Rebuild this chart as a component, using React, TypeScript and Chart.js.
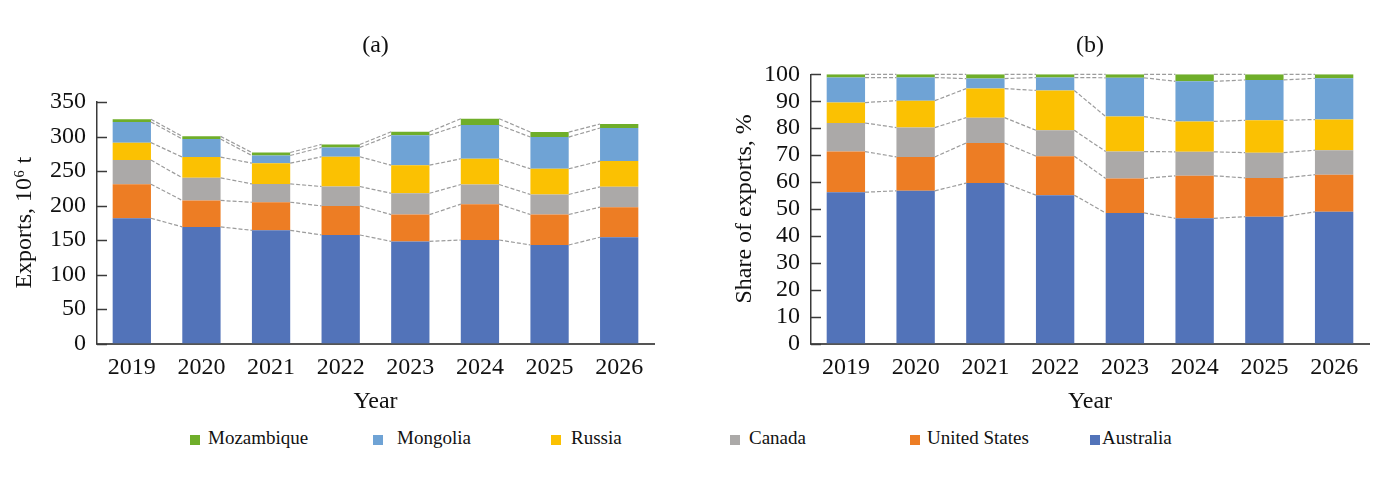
import React, { useEffect, useRef } from 'react';
import { Chart, registerables } from 'chart.js';

Chart.register(...registerables);

const years = ['2019', '2020', '2021', '2022', '2023', '2024', '2025', '2026'];
const countries = ['Australia', 'United States', 'Canada', 'Russia', 'Mongolia', 'Mozambique'];
const countryColors = ['#5273b9', '#ed7d24', '#aba9a8', '#fbc102', '#6fa3d5', '#6fae2a'];

// (a) Exports, 10^6 t
const australiaExports = [181.5, 169, 164, 157.3, 148, 150, 142.8, 154];
const usExports = [49.4, 38.3, 40.7, 42.1, 38.8, 51.9, 44.1, 43.6];
const canadaExports = [35, 32.8, 26.6, 28.1, 30.9, 28.5, 29.1, 29.5];
const russiaExports = [25.2, 30.1, 30, 43.1, 40.7, 37.3, 37.2, 37.3];
const mongoliaExports = [30, 26.2, 11.1, 13.6, 43.5, 48.9, 46, 47.9];
const mozambiqueExports = [3.9, 3.8, 4.4, 4.3, 4.9, 9.2, 7.2, 5.8];

// (b) Share of exports, %
const australiaShare = [56.2, 56.7, 59.6, 55.1, 48.5, 46.5, 47.1, 48.9];
const usShare = [15.1, 12.6, 14.9, 14.5, 12.8, 15.8, 14.4, 13.8];
const canadaShare = [10.6, 10.9, 9.4, 9.6, 10.0, 8.9, 9.4, 9.1];
const russiaShare = [7.6, 10.0, 10.8, 14.8, 13.0, 11.3, 12.0, 11.4];
const mongoliaShare = [9.3, 8.6, 3.7, 4.8, 14.4, 14.9, 15.0, 15.3];
const mozambiqueShare = [1.2, 1.2, 1.6, 1.2, 1.3, 2.6, 2.1, 1.5];

const exportsTicks = [0, 50, 100, 150, 200, 250, 300, 350];
const shareTicks = [0, 10, 20, 30, 40, 50, 60, 70, 80, 90, 100];

const exportsSeries = [australiaExports, usExports, canadaExports, russiaExports, mongoliaExports, mozambiqueExports];
const shareSeries = [australiaShare, usShare, canadaShare, russiaShare, mongoliaShare, mozambiqueShare];

const legendOrder = [5, 4, 3, 2, 1, 0];

const FONT = "'Liberation Serif', 'Times New Roman', Times, serif";
const TEXT = '#111111';

const seriesLinesPlugin = {
  id: 'seriesLines',
  afterDatasetsDraw(chart: any) {
    const ctx = chart.ctx;
    ctx.save();
    ctx.strokeStyle = '#9c9c9c';
    ctx.lineWidth = 1.2;
    ctx.setLineDash([4, 2]);
    chart.data.datasets.forEach((_: any, d: number) => {
      const meta = chart.getDatasetMeta(d);
      for (let i = 0; i < meta.data.length - 1; i++) {
        const a = meta.data[i];
        const b = meta.data[i + 1];
        ctx.beginPath();
        ctx.moveTo(a.x + a.width / 2, a.y);
        ctx.lineTo(b.x - b.width / 2, b.y);
        ctx.stroke();
      }
    });
    ctx.restore();
  },
};

const innerTicksPlugin = {
  id: 'innerTicks',
  afterDraw(chart: any) {
    const ctx = chart.ctx;
    const y = chart.scales.y;
    const left = chart.chartArea.left;
    ctx.save();
    ctx.strokeStyle = '#3a3a3a';
    ctx.lineWidth = 1.5;
    y.ticks.forEach((_: any, i: number) => {
      const py = Math.round(y.getPixelForTick(i)) + 0.5;
      ctx.beginPath();
      ctx.moveTo(left, py);
      ctx.lineTo(left + 10, py);
      ctx.stroke();
    });
    ctx.restore();
  },
};

type PanelProps = {
  series: number[][];
  tickValues: number[];
  title: string;
  yTitle: string;
  width: number;
  height: number;
  yWidth: number;
  yTitlePad: number;
  titlePadBottom: number;
  rightPad: number;
};

function Panel(p: PanelProps) {
  const ref = useRef<HTMLCanvasElement | null>(null);
  useEffect(() => {
    if (!ref.current) return;
    const step = p.tickValues[1] - p.tickValues[0];
    const chart = new Chart(ref.current, {
      type: 'bar',
      data: {
        labels: years,
        datasets: p.series.map((vals, k) => ({
          label: countries[k],
          data: vals,
          backgroundColor: countryColors[k],
          borderWidth: 0,
          barPercentage: 0.55,
          categoryPercentage: 1,
        })),
      },
      options: {
        responsive: false,
        animation: false,
        layout: { padding: { left: 0, right: p.rightPad, top: 0, bottom: 0 } },
        plugins: {
          legend: { display: false },
          tooltip: { enabled: false },
          title: {
            display: true,
            text: p.title,
            fullSize: false,
            color: TEXT,
            font: { family: FONT, size: 24, weight: 'normal' },
            padding: { top: 31, bottom: p.titlePadBottom },
          },
        },
        scales: {
          x: {
            stacked: true,
            grid: { display: false, drawTicks: false },
            border: { display: true, color: '#555555', width: 2 },
            ticks: { color: TEXT, font: { family: FONT, size: 24 }, padding: 10, maxRotation: 0, autoSkip: false },
            title: {
              display: true,
              text: 'Year',
              color: TEXT,
              font: { family: FONT, size: 24 },
              padding: { top: 0, bottom: 4 },
            },
            afterFit: (s: any) => {
              s.height = p.height - 343.5;
            },
          },
          y: {
            stacked: true,
            min: p.tickValues[0],
            max: p.tickValues[p.tickValues.length - 1],
            grid: { display: false, drawTicks: false },
            border: { display: true, color: '#3a3a3a', width: 1.5 },
            ticks: {
              stepSize: step,
              autoSkip: false,
              color: TEXT,
              font: { family: FONT, size: 24 },
              padding: 11,
            },
            title: {
              display: true,
              text: p.yTitle,
              color: TEXT,
              font: { family: FONT, size: 24 },
              padding: { top: p.yTitlePad, bottom: 0 },
            },
            afterFit: (s: any) => {
              s.width = p.yWidth;
            },
          },
        },
      } as any,
      plugins: [seriesLinesPlugin, innerTicksPlugin],
    });
    return () => chart.destroy();
  }, []);
  return <canvas ref={ref} width={p.width} height={p.height} style={{ width: p.width, height: p.height, display: 'block' }} />;
}

const legendSquareX = [190, 373, 551, 730, 910, 1090];
const legendTextX = [208, 397, 571, 749, 927, 1102];

export default function App() {
  return (
    <div style={{ position: 'fixed', left: 0, top: 0, width: 1384, height: 485, background: '#ffffff', overflow: 'hidden' }}>
      <div style={{ position: 'absolute', left: 0, top: 0 }}>
        <Panel
          series={exportsSeries}
          tickValues={exportsTicks}
          title="(a)"
          yTitle="Exports, 10⁶ t"
          width={680}
          height={420}
          yWidth={97}
          yTitlePad={10}
          titlePadBottom={42.2}
          rightPad={26}
        />
      </div>
      <div style={{ position: 'absolute', left: 680, top: 0 }}>
        <Panel
          series={shareSeries}
          tickValues={shareTicks}
          title="(b)"
          yTitle="Share of exports, %"
          width={704}
          height={420}
          yWidth={131}
          yTitlePad={50}
          titlePadBottom={14.5}
          rightPad={15}
        />
      </div>
      {legendOrder.map((k, j) => (
        <React.Fragment key={countries[k]}>
          <div
            style={{
              position: 'absolute',
              left: legendSquareX[j],
              top: 435,
              width: 10,
              height: 10,
              background: countryColors[k],
            }}
          />
          <div
            style={{
              position: 'absolute',
              left: legendTextX[j],
              top: 428,
              fontFamily: FONT,
              fontSize: 19,
              lineHeight: '20px',
              color: TEXT,
              whiteSpace: 'nowrap',
            }}
          >
            {countries[k]}
          </div>
        </React.Fragment>
      ))}
    </div>
  );
}
